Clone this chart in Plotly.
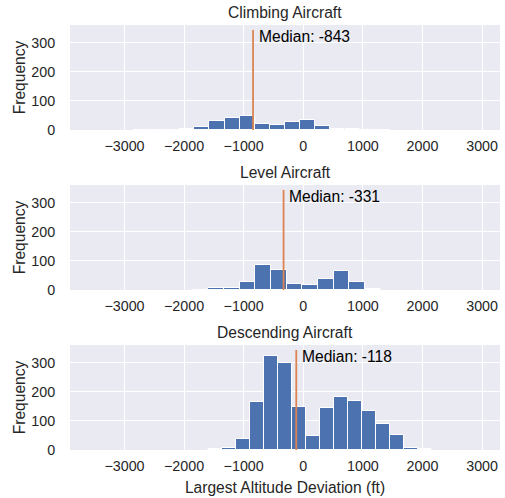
import plotly.graph_objects as go

# ---- data ----
titles = ["Climbing Aircraft", "Level Aircraft", "Descending Aircraft"]
medians = [-843, -331, -118]

climb_start = -2837
climb_width = 252.6
climb_counts = [1, 0, 1, 5, 10, 32, 42, 48, 21, 16, 28, 35, 15, 5, 2, 1, 1]

level_start = -1857
level_width = 263
level_counts = [1, 6, 6, 26, 86, 69, 22, 16, 39, 67, 27, 2]

desc_start = -1594
desc_width = 234.6
desc_counts = [2, 8, 39, 166, 323, 300, 147, 47, 145, 183, 169, 134, 91, 51, 7, 2]

x_ticks = [-3000, -2000, -1000, 0, 1000, 2000, 3000]
y_ticks = [0, 100, 200, 300]
median_line_top = 345

panels = [
    (climb_start, climb_width, climb_counts),
    (level_start, level_width, level_counts),
    (desc_start, desc_width, desc_counts),
]

BLUE = "#4C72B0"
ORANGE = "#DD8452"
TXT = "#262626"
FONT = "Liberation Sans, Arial, sans-serif"

W, H = 505, 498
ML, MR, MT, MB = 70, 5, 25, 48
plot_h = H - MT - MB
# pixel rows of each panel (top, bottom)
rows_px = [(25, 130), (185, 290), (345, 450)]

fig = go.Figure()
layout = {}
annotations = []
shapes = []
for i, ((start, width, counts), title, med) in enumerate(zip(panels, titles, medians)):
    n = "" if i == 0 else str(i + 1)
    centers = [start + width * (k + 0.5) for k in range(len(counts))]
    fig.add_trace(go.Bar(
        x=centers, y=counts, width=[width] * len(counts),
        marker=dict(color=BLUE, line=dict(color="white", width=1)),
        xaxis="x" + n, yaxis="y" + n, showlegend=False, hoverinfo="skip",
    ))
    top, bot = rows_px[i]
    d0 = (H - MB - bot) / plot_h
    d1 = (H - MB - top) / plot_h
    layout["xaxis" + n] = dict(
        domain=[0, 1], anchor="y" + n, range=[-3914, 3300],
        tickvals=x_ticks, showgrid=True, gridcolor="white", gridwidth=1,
        zeroline=False, showline=False, ticks="outside", ticklen=3,
        tickcolor="rgba(0,0,0,0)",
        tickfont=dict(size=14.3, color=TXT, family=FONT),
    )
    layout["yaxis" + n] = dict(
        domain=[d0, d1], anchor="x" + n, range=[0, 362],
        tickvals=y_ticks, showgrid=True, gridcolor="white", gridwidth=1,
        zeroline=False, showline=False, ticks="outside", ticklen=11,
        tickcolor="rgba(0,0,0,0)",
        tickfont=dict(size=14.3, color=TXT, family=FONT),
        title=dict(text="Frequency", font=dict(size=15.6, color=TXT, family=FONT), standoff=1),
    )
    shapes.append(dict(
        type="line", xref="x" + n, yref="y" + n,
        x0=med, x1=med, y0=0, y1=median_line_top,
        line=dict(color=ORANGE, width=1.8),
    ))
    annotations.append(dict(
        xref="x" + n, yref="y" + n, x=med + 60, y=322,
        text=f"Median: {med}", showarrow=False, xanchor="left", yanchor="middle",
        font=dict(size=15.6, color="black", family=FONT),
    ))
    annotations.append(dict(
        xref="paper", yref="paper", x=0.5, y=d1,
        text=title, showarrow=False, xanchor="center", yanchor="bottom", yshift=2,
        font=dict(size=15.6, color=TXT, family=FONT),
    ))

layout["xaxis3"]["title"] = dict(text="Largest Altitude Deviation (ft)",
                                 font=dict(size=15.6, color=TXT, family=FONT), standoff=8)

fig.update_layout(
    width=W, height=H,
    margin=dict(l=ML, r=MR, t=MT, b=MB),
    plot_bgcolor="#EAEAF2", paper_bgcolor="white",
    bargap=0, showlegend=False, hovermode=False,
    annotations=annotations, shapes=shapes,
    **layout,
)
fig.write_html("out.html", config={"displayModeBar": False},
               post_script="document.body.style.margin='0px';document.body.style.overflow='hidden';")
